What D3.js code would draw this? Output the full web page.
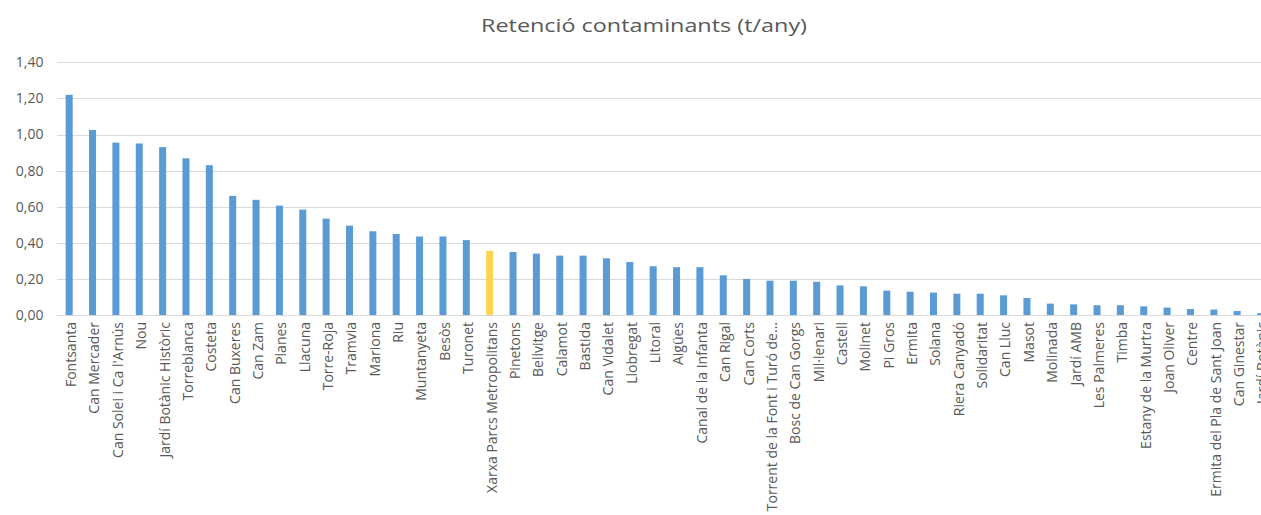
<!DOCTYPE html>
<html>
<head>
<meta charset="utf-8">
<script src="https://cdn.jsdelivr.net/npm/d3@7"></script>
<style>
  html, body { margin: 0; padding: 0; background: #fff; overflow: hidden; }
  svg { display: block; }
</style>
</head>
<body>
<svg id="chart" width="1261" height="515"></svg>
<script>
const title = "Retenció contaminants (t/any)";
const categories = [
  "Fontsanta", "Can Mercader", "Can Solei i Ca l'Arnús", "Nou", "Jardí Botànic Històric",
  "Torreblanca", "Costeta", "Can Buxeres", "Can Zam", "Planes", "Llacuna", "Torre-Roja",
  "Tramvia", "Mariona", "Riu", "Muntanyeta", "Besòs", "Turonet", "Xarxa Parcs Metropolitans",
  "Pinetons", "Bellvitge", "Calamot", "Bastida", "Can Vidalet", "Llobregat", "Litoral",
  "Aigües", "Canal de la Infanta", "Can Rigal", "Can Corts", "Torrent de la Font i Turó de...",
  "Bosc de Can Gorgs", "Mil·lenari", "Castell", "Molinet", "Pi Gros", "Ermita", "Solana",
  "Riera Canyadó", "Solidaritat", "Can Lluc", "Masot", "Molinada", "Jardí AMB",
  "Les Palmeres", "Timba", "Estany de la Murtra", "Joan Oliver", "Centre",
  "Ermita del Pla de Sant Joan", "Can Ginestar", "Jardí Botànic"
];
const values = [
  1.22, 1.025, 0.955, 0.95, 0.93,
  0.868, 0.83, 0.66, 0.638, 0.606, 0.584, 0.534,
  0.495, 0.464, 0.449, 0.435, 0.435, 0.415, 0.355,
  0.349, 0.34, 0.329, 0.329, 0.314, 0.294, 0.27,
  0.265, 0.265, 0.22, 0.2, 0.19,
  0.19, 0.184, 0.164, 0.159, 0.135, 0.129, 0.124,
  0.118, 0.118, 0.109, 0.094, 0.063, 0.059,
  0.054, 0.054, 0.048, 0.041, 0.033,
  0.03, 0.022, 0.01
];
const highlighted = ["Xarxa Parcs Metropolitans"];
const yTicks = [0, 0.2, 0.4, 0.6, 0.8, 1.0, 1.2, 1.4];

const svg = d3.select("#chart");
const plotLeft = 57.5, plotRight = 57.5 + 52 * 23.36;
const plotTop = 62.3, plotBottom = 315;
const textColor = "#595959";
const font = "'Open Sans', sans-serif";

const x = d3.scaleBand().domain(categories).range([plotLeft, plotRight]).paddingInner(0.7).paddingOuter(0.35);
const y = d3.scaleLinear().domain([0, 1.4]).range([plotBottom, plotTop]);

// title
svg.append("text")
  .attr("x", 644).attr("y", 32)
  .attr("text-anchor", "middle")
  .attr("font-family", font).attr("font-size", 18)
  .attr("textLength", 326).attr("lengthAdjust", "spacingAndGlyphs")
  .attr("fill", textColor)
  .text(title);

// gridlines
svg.append("g").selectAll("line").data(yTicks).join("line")
  .attr("x1", plotLeft).attr("x2", plotRight)
  .attr("y1", d => Math.round(y(d)) + 0.5).attr("y2", d => Math.round(y(d)) + 0.5)
  .attr("stroke", "#d9d9d9").attr("stroke-width", 1);

// y axis
const fmt = d => d.toFixed(2).replace(".", ",");
const yAxis = d3.axisLeft(y).tickValues(yTicks).tickFormat(fmt).tickSize(0).tickPadding(0);
const yg = svg.append("g").attr("transform", `translate(${plotLeft - 14},0)`).call(yAxis);
yg.select(".domain").remove();
yg.selectAll("text").attr("font-family", font).attr("font-size", 14).attr("fill", textColor);

// bars
svg.append("g").selectAll("rect").data(categories).join("rect")
  .attr("x", d => x(d))
  .attr("width", x.bandwidth())
  .attr("y", (d, i) => y(values[i]))
  .attr("height", (d, i) => y(0) - y(values[i]))
  .attr("fill", d => highlighted.includes(d) ? "#FFD34F" : "#5B9BD5");

// x labels
const xAxis = d3.axisBottom(x).tickSize(0).tickPadding(0);
const xg = svg.append("g").attr("transform", `translate(0,${plotBottom})`).call(xAxis);
xg.select(".domain").remove();
xg.selectAll("text")
  .attr("font-family", font).attr("font-size", 14).attr("fill", textColor)
  .attr("text-anchor", "end")
  .attr("dy", "0.35em")
  .attr("transform", "translate(2,7) rotate(-90)")
  .attr("x", 0).attr("y", 0);
</script>
</body>
</html>
